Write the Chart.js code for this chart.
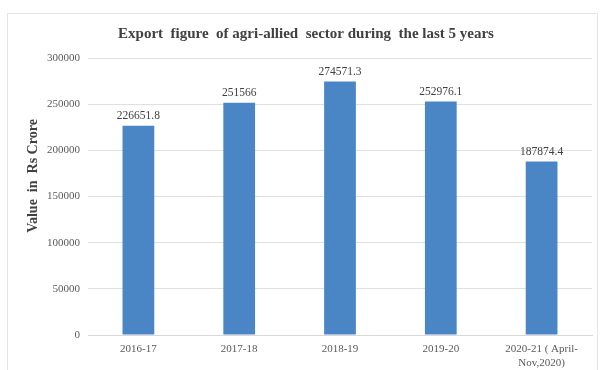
<!DOCTYPE html>
<html>
<head>
<meta charset="utf-8">
<script src="https://cdn.jsdelivr.net/npm/chart.js@4.4.0/dist/chart.umd.min.js"></script>
<style>
  html, body { margin: 0; padding: 0; background: #ffffff; }
  #wrap { width: 602px; height: 370px; position: relative; }
</style>
</head>
<body>
<div id="wrap"><canvas id="grafico"></canvas></div>
<script>
// Dados do gráfico
const anos = ["2016-17", "2017-18", "2018-19", "2019-20", ["2020-21 ( April-", "Nov,2020)"]];
const valores = [226651.8, 251566, 274571.3, 252976.1, 187874.4];
const rotulos = ["226651.8", "251566", "274571.3", "252976.1", "187874.4"];
const ticksY = [0, 50000, 100000, 150000, 200000, 250000, 300000];

const serif = "'Liberation Serif', 'DejaVu Serif', serif";

// borda clara em volta da área do gráfico + título do eixo Y
const borda = {
    id: "borda",
    beforeDraw(chart) {
        const ctx = chart.ctx;
        ctx.save();
        ctx.strokeStyle = "#e4e4e4";
        ctx.lineWidth = 1;
        ctx.strokeRect(7.5, 13.5, 590, 360);
        ctx.restore();
    },
    afterDraw(chart) {
        const ctx = chart.ctx;
        ctx.save();
        ctx.translate(33, 176);
        ctx.rotate(-Math.PI / 2);
        ctx.font = "bold 14px " + serif;
        ctx.fillStyle = "#404040";
        ctx.textAlign = "center";
        ctx.textBaseline = "middle";
        ctx.fillText("Value  in  Rs Crore", 0, 0);
        ctx.restore();
    }
};

// rótulos de valor acima das barras
const rotulosBarras = {
    id: "rotulosBarras",
    afterDatasetsDraw(chart) {
        const ctx = chart.ctx;
        const meta = chart.getDatasetMeta(0);
        ctx.save();
        ctx.font = "11.5px " + serif;
        ctx.fillStyle = "#404040";
        ctx.textAlign = "center";
        ctx.textBaseline = "bottom";
        meta.data.forEach((barra, i) => {
            ctx.fillText(rotulos[i], barra.x, barra.y - 4);
        });
        ctx.restore();
    }
};

new Chart(document.getElementById("grafico").getContext("2d"), {
    type: "bar",
    data: {
        labels: anos,
        datasets: [{
            data: valores,
            backgroundColor: "#4a86c6",
            barPercentage: 0.63,
            categoryPercentage: 0.5
        }]
    },
    options: {
        responsive: true,
        maintainAspectRatio: false,
        animation: false,
        layout: { padding: { left: 20, right: 10, top: 0, bottom: 0 } },
        plugins: {
            legend: { display: false },
            tooltip: { enabled: false },
            title: {
                display: true,
                text: "Export  figure  of agri-allied  sector during  the last 5 years",
                color: "#404040",
                font: { family: serif, size: 15, weight: "bold" },
                padding: { top: 25, bottom: 15 }
            }
        },
        scales: {
            x: {
                afterFit(scale) { scale.height = 35; },
                grid: { display: false, drawTicks: false },
                border: { color: "#d9d9d9" },
                ticks: {
                    color: "#595959",
                    font: { family: serif, size: 11, lineHeight: 1.2 },
                    maxRotation: 0,
                    autoSkip: false,
                    padding: 8
                }
            },
            y: {
                min: 0,
                max: 300000,
                afterFit(scale) { scale.width = 68; },
                afterBuildTicks(scale) { scale.ticks = ticksY.map(v => ({ value: v })); },
                grid: { color: "#e0e0e0", drawTicks: false },
                border: { display: false },
                ticks: {
                    color: "#595959",
                    font: { family: serif, size: 11 },
                    padding: 8,
                    callback: (v) => String(v)
                }
            }
        }
    },
    plugins: [borda, rotulosBarras]
});
</script>
</body>
</html>
